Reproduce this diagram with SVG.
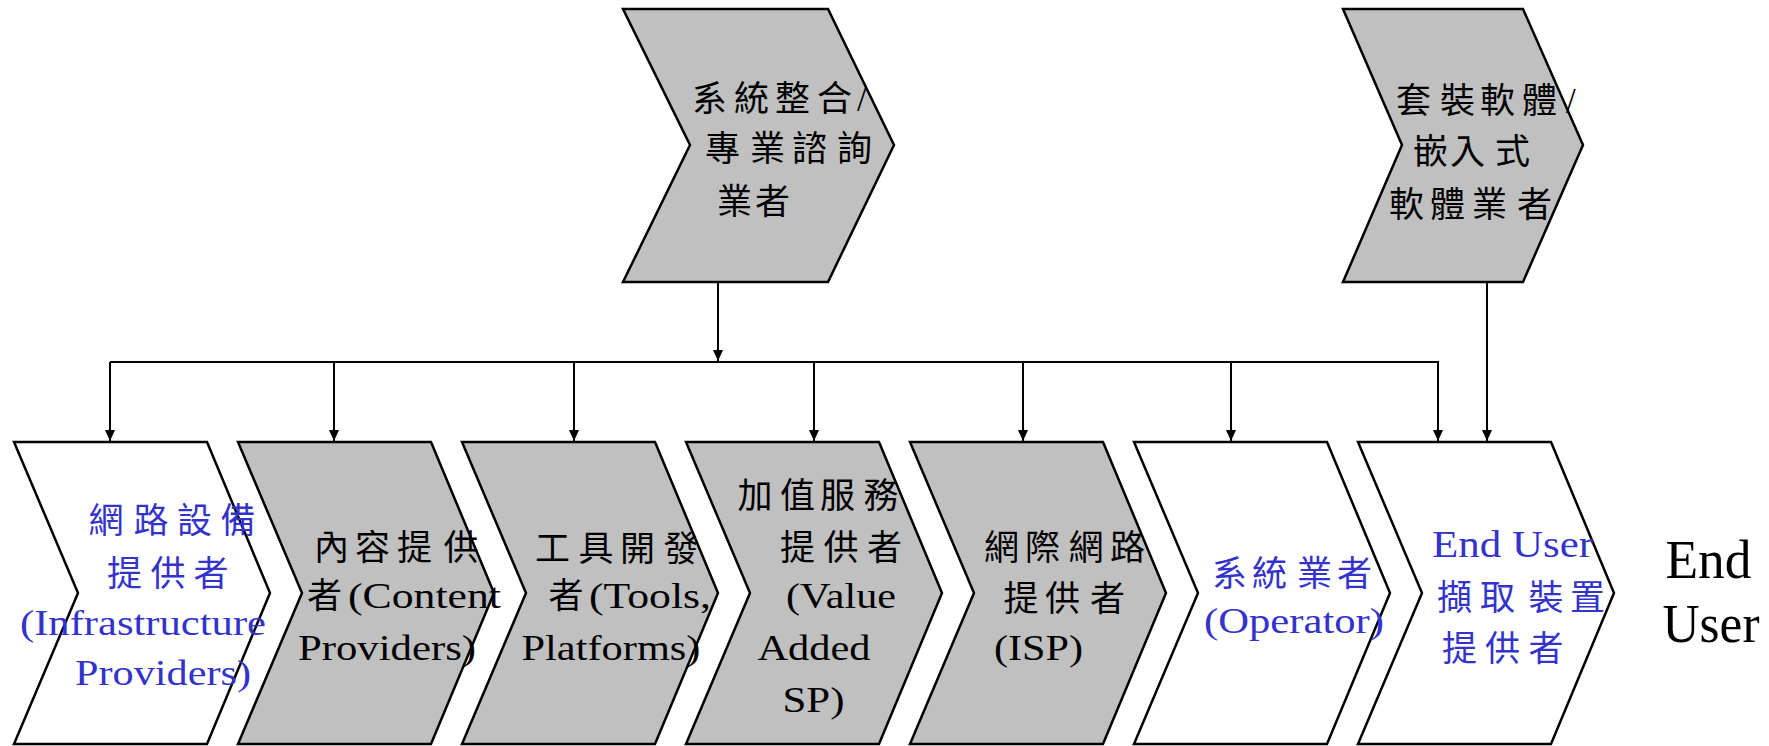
<svg xmlns="http://www.w3.org/2000/svg" width="1769" height="746" viewBox="0 0 1769 746">
<style>
.g{fill:#C0C0C0;stroke:#000;stroke-width:2.5;stroke-linejoin:miter}
.w{fill:#FFFFFF;stroke:#000;stroke-width:2.5;stroke-linejoin:miter}
.t{font-family:'Liberation Serif','Noto Sans CJK TC',serif;fill:#000}
.b{fill:#3333CC}
.c{font-size:35px}
.l{font-size:35px}
.ln{stroke:#000;stroke-width:2;fill:none}
</style>
<defs>
<marker id="ah" markerUnits="userSpaceOnUse" markerWidth="11" markerHeight="10" refX="11" refY="5" orient="auto">
<path d="M0,0 L11,5 L0,10 z" fill="#000"/>
</marker>
</defs>
<g id="connectors">
<line class="ln" x1="718" y1="282" x2="718" y2="361" marker-end="url(#ah)"/>
<polyline class="ln" points="110,362 1438,362"/>
<line class="ln" x1="110" y1="362" x2="110" y2="441" marker-end="url(#ah)"/>
<line class="ln" x1="334" y1="362" x2="334" y2="441" marker-end="url(#ah)"/>
<line class="ln" x1="574" y1="362" x2="574" y2="441" marker-end="url(#ah)"/>
<line class="ln" x1="814" y1="362" x2="814" y2="441" marker-end="url(#ah)"/>
<line class="ln" x1="1023" y1="362" x2="1023" y2="441" marker-end="url(#ah)"/>
<line class="ln" x1="1231" y1="362" x2="1231" y2="441" marker-end="url(#ah)"/>
<line class="ln" x1="1438" y1="361" x2="1438" y2="441" marker-end="url(#ah)"/>
<line class="ln" x1="1487" y1="282" x2="1487" y2="441" marker-end="url(#ah)"/>
</g>
<g id="si-consultant">
<polygon class="g" points="623,9 828,9 894,145 828,282 623,282 690,145"/>
<text class="t c" x="692 734 775 817" y="111">系統整合</text>
<text class="t l" x="857" y="111">/</text>
<text class="t c" x="705 750 792 837" y="161">專業諮詢</text>
<text class="t c" x="717 755" y="214">業者</text>
</g>
<g id="packaged-software">
<polygon class="g" points="1343,9 1523,9 1583,145 1523,282 1343,282 1402,145"/>
<text class="t c" x="1396 1440 1480 1522" y="113">套裝軟體</text>
<text class="t l" x="1566" y="113">/</text>
<text class="t c" x="1413 1450 1495" y="164">嵌入式</text>
<text class="t c" x="1389 1430 1472 1517" y="217">軟體業者</text>
</g>
<g id="infrastructure">
<polygon class="w" points="14,442 207,442 270,593 207,744 14,744 78,593"/>
<text class="t c b" x="88.5 133.5 177 220.5" y="533">網路設備</text>
<text class="t c b" x="107 150.5 193.5" y="586">提供者</text>
<text class="t l b" x="20" y="635" textLength="246" lengthAdjust="spacingAndGlyphs">(Infrastructure</text>
<text class="t l b" x="75" y="685" textLength="176" lengthAdjust="spacingAndGlyphs">Providers)</text>
</g>
<g id="content">
<polygon class="g" points="238,442 431,442 494,593 431,744 238,744 302,593"/>
<text class="t c" x="314 355 397 443.5" y="559.5">內容提供</text>
<text class="t c" x="307" y="608">者</text>
<text class="t l" x="348" y="608" textLength="153" lengthAdjust="spacingAndGlyphs">(Content</text>
<text class="t l" x="298" y="660" textLength="178" lengthAdjust="spacingAndGlyphs">Providers)</text>
</g>
<g id="tools">
<polygon class="g" points="462,442 655,442 718,593 655,744 462,744 526,593"/>
<text class="t c" x="535 578.5 620 663.5" y="561">工具開發</text>
<text class="t c" x="548.5" y="608">者</text>
<text class="t l" x="589" y="608" textLength="122" lengthAdjust="spacingAndGlyphs">(Tools,</text>
<text class="t l" x="521.5" y="660" textLength="179" lengthAdjust="spacingAndGlyphs">Platforms)</text>
</g>
<g id="value-added">
<polygon class="g" points="686,442 879,442 942,593 879,744 686,744 750,593"/>
<text class="t c" x="737.5 780 820 863.5" y="508">加值服務</text>
<text class="t c" x="780 823.5 867" y="559.5">提供者</text>
<text class="t l" x="786" y="608" textLength="110" lengthAdjust="spacingAndGlyphs">(Value</text>
<text class="t l" x="757.5" y="660" textLength="113" lengthAdjust="spacingAndGlyphs">Added</text>
<text class="t l" x="782.5" y="711.7" textLength="62" lengthAdjust="spacingAndGlyphs">SP)</text>
</g>
<g id="isp">
<polygon class="g" points="910,442 1103,442 1166,593 1103,744 910,744 974,593"/>
<text class="t c" x="984 1025 1068.5 1110" y="559.5">網際網路</text>
<text class="t c" x="1003.5 1045 1090" y="611">提供者</text>
<text class="t l" x="994" y="660" textLength="89" lengthAdjust="spacingAndGlyphs">(ISP)</text>
</g>
<g id="operator">
<polygon class="w" points="1134,442 1327,442 1390,593 1327,744 1134,744 1198,593"/>
<text class="t c b" x="1212 1252 1297 1337" y="586">系統業者</text>
<text class="t l b" x="1204" y="633.3" textLength="180" lengthAdjust="spacingAndGlyphs">(Operator)</text>
</g>
<g id="device">
<polygon class="w" points="1358,442 1551,442 1614,593 1551,744 1358,744 1422,593"/>
<text class="t b" style="font-size:38px" x="1432" y="556.7" textLength="161" lengthAdjust="spacingAndGlyphs">End User</text>
<text class="t c b" x="1437 1480 1528.5 1570" y="609.5">擷取裝置</text>
<text class="t c b" x="1442 1485 1528.5" y="661">提供者</text>
</g>
<g id="end-user">
<text class="t" style="font-size:55px" x="1665.5" y="578.3" textLength="86" lengthAdjust="spacingAndGlyphs">End</text>
<text class="t" style="font-size:55px" x="1662.5" y="641.7" textLength="97" lengthAdjust="spacingAndGlyphs">User</text>
</g>
</svg>
